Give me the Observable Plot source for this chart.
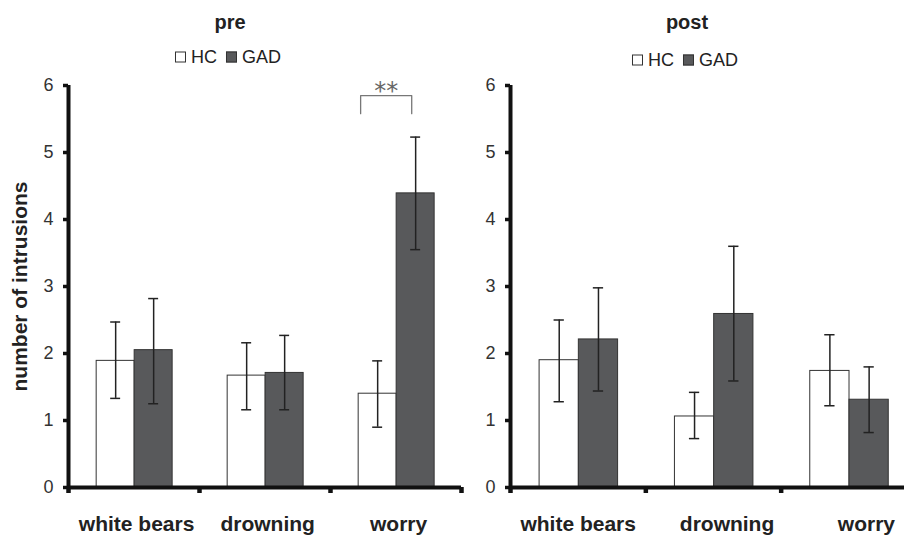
<!DOCTYPE html>
<html>
<head>
<meta charset="utf-8">
<script src="https://cdn.jsdelivr.net/npm/d3@7"></script>
<script src="https://cdn.jsdelivr.net/npm/@observablehq/plot@0.6"></script>
<style>
  html, body { margin: 0; padding: 0; background: white; }
  #wrap { position: relative; width: 904px; height: 537px; overflow: hidden; background: white;
          font-family: "Liberation Sans", Arial, sans-serif; color: #222; }
  .title { position: absolute; transform: translate(-50%, -50%); font-weight: bold; font-size: 20px; color: #222; white-space: nowrap; }
  .legend { position: absolute; transform: translate(-50%, -50%); display: flex; align-items: center; font-size: 18px; color: #222; white-space: nowrap; }
  .sw { display: inline-block; width: 9px; height: 9px; border: 1px solid #333; margin-right: 5px; }
  .gap { display: inline-block; width: 9px; }
  .panel { position: absolute; top: 70px; }
</style>
</head>
<body>
<div id="wrap">
  <div class="title" style="left:230px; top:22px">pre</div>
  <div class="legend" style="left:228px; top:57px"><span class="sw" style="background:#fff"></span>HC<span class="gap"></span><span class="sw" style="background:#58595b"></span>GAD</div>
  <div class="title" style="left:687px; top:22px">post</div>
  <div class="legend" style="left:685px; top:60px"><span class="sw" style="background:#fff"></span>HC<span class="gap"></span><span class="sw" style="background:#58595b"></span>GAD</div>
  <div id="pre" class="panel" style="left:0px; width:461px"></div>
  <div id="post" class="panel" style="left:450px; width:466px"></div>
</div>
<script>
const categories = ["white bears", "drowning", "worry"];
const groups = ["HC", "GAD"];
const yTicks = [0, 1, 2, 3, 4, 5, 6];

// pre
const preHC     = [1.89, 1.67, 1.40];
const preHCLo   = [1.33, 1.16, 0.90];
const preHCHi   = [2.47, 2.16, 1.89];
const preGAD    = [2.05, 1.71, 4.39];
const preGADLo  = [1.25, 1.16, 3.55];
const preGADHi  = [2.82, 2.27, 5.23];
// post
const postHC    = [1.90, 1.06, 1.74];
const postHCLo  = [1.28, 0.73, 1.22];
const postHCHi  = [2.50, 1.42, 2.28];
const postGAD   = [2.21, 2.59, 1.31];
const postGADLo = [1.44, 1.59, 0.82];
const postGADHi = [2.98, 3.60, 1.80];

const preLabelTicks  = [0.52, 1.52, 2.52];
const postLabelTicks = [0.50, 1.60, 2.63];

// significance annotation (pre, worry)
const preSig = [{category: "worry", bottom: 5.58, top: 5.85, textY: 5.92, label: "**"}];

function rows(hc, hcLo, hcHi, gad, gadLo, gadHi) {
  return categories.flatMap((c, i) => [
    {category: c, i, group: "HC",  value: hc[i],  lo: hcLo[i],  hi: hcHi[i]},
    {category: c, i, group: "GAD", value: gad[i], lo: gadLo[i], hi: gadHi[i]}
  ]);
}

const BAR = {HC: [0.215, 0.505], GAD: [0.505, 0.795]};
const bx1 = d => d.i + BAR[d.group][0];
const bx2 = d => d.i + BAR[d.group][1];
const bxc = d => (bx1(d) + bx2(d)) / 2;
const CAP = 0.038;

function panel({data, width, marginLeft, labelTicks, sig, yLabel}) {
  const marks = [
    Plot.rectY(data, {x1: bx1, x2: bx2, y: "value", fill: "group", stroke: "#333", strokeWidth: 1}),
    Plot.ruleX(data, {x: bxc, y1: "lo", y2: "hi", stroke: "#222", strokeWidth: 1.5}),
    Plot.ruleY(data, {y: "hi", x1: d => bxc(d) - CAP, x2: d => bxc(d) + CAP, stroke: "#222", strokeWidth: 1.5}),
    Plot.ruleY(data, {y: "lo", x1: d => bxc(d) - CAP, x2: d => bxc(d) + CAP, stroke: "#222", strokeWidth: 1.5}),
    Plot.ruleX([0], {y1: 0, y2: 6, stroke: "#111", strokeWidth: 4}),
    Plot.ruleY([0], {stroke: "#111", strokeWidth: 4}),
    Plot.axisY({ticks: yTicks, tickSize: 5, tickPadding: 10, stroke: "#111", strokeWidth: 3.5, fill: "#333",
                fontSize: 18, tickFormat: d3.format("d"), label: null}),
    Plot.axisX({ticks: [0, 1, 2, 3], tickSize: 6, strokeWidth: 4.5, stroke: "#111", tickFormat: () => "", label: null}),
    Plot.axisX({ticks: labelTicks, tickSize: 0, tickPadding: 29, tickFormat: t => categories[Math.floor(t)],
                fontSize: 21, fontWeight: "bold", fill: "#222", label: null})
  ];
  if (sig) {
    const ci = s => categories.indexOf(s.category);
    const left = s => ci(s) + BAR.HC[0] + 0.015;
    const right = s => ci(s) + (BAR.GAD[0] + BAR.GAD[1]) / 2 - 0.03;
    const path = sig.flatMap(s => [
      {x: left(s), y: s.bottom}, {x: left(s), y: s.top}, {x: right(s), y: s.top}, {x: right(s), y: s.bottom}
    ]);
    marks.push(Plot.line(path, {x: "x", y: "y", stroke: "#777", strokeWidth: 1.3}));
    marks.push(Plot.text(sig, {x: s => (left(s) + right(s)) / 2, y: "textY", text: "label",
      fontSize: 24, fill: "#666", fontFamily: "DejaVu Sans", lineAnchor: "middle"}));
  }
  if (yLabel) {
    marks.push(Plot.text([yLabel], {frameAnchor: "left", rotate: -90, dx: -48, text: d => d,
      textAnchor: "middle", fontSize: 21, fontWeight: "bold", fill: "#222", lineAnchor: "middle"}));
  }
  return Plot.plot({
    width, height: 467,
    marginTop: 15, marginBottom: 50, marginLeft, marginRight: 0,
    style: {background: "transparent", overflow: "visible", fontFamily: "Liberation Sans, Arial, sans-serif", color: "#222"},
    x: {type: "linear", domain: [0, 3], axis: null},
    y: {domain: [0, 6], axis: null},
    color: {domain: groups, range: ["#ffffff", "#58595b"]},
    marks
  });
}

document.getElementById("pre").append(panel({
  data: rows(preHC, preHCLo, preHCHi, preGAD, preGADLo, preGADHi),
  width: 461, marginLeft: 68, labelTicks: preLabelTicks, sig: preSig, yLabel: "number of intrusions"
}));
document.getElementById("post").append(panel({
  data: rows(postHC, postHCLo, postHCHi, postGAD, postGADLo, postGADHi),
  width: 466, marginLeft: 60, labelTicks: postLabelTicks
}));
</script>
</body>
</html>
